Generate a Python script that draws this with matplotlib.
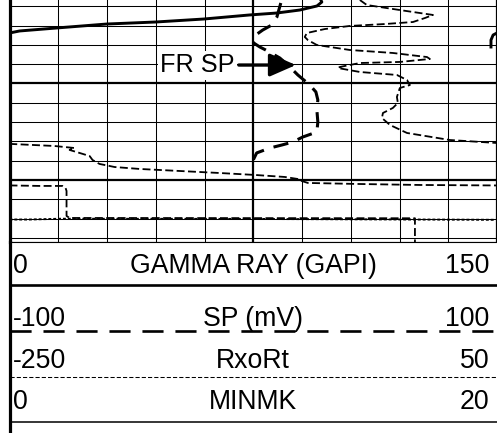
"""
Well-log track: gamma ray, SP, RxoRt and MINMK with a four-row scale header.
Curves that run past either edge of the track wrap around (backup scale).
"""
import numpy as np
import matplotlib

matplotlib.use("Agg")
import matplotlib.pyplot as plt

plt.rcParams["font.family"] = ["Liberation Sans", "DejaVu Sans"]

# ---- data (depth units, curve units) ----
GR_DEPTH = [91.35, 91.56, 91.97, 92.39, 92.70, 92.90, 93.32, 93.63, 93.84,
            94.25, 94.56, 94.77, 94.87, 94.98, 95.50, 96.22]
GR_API = [95.8, 96.1, 94.6, 89.3, 82.2, 73.9, 59.8, 45.0, 29.9,
          14.5, 3.1, 0.0, -0.6, -1.2, -1.85, -1.85]

SP_DEPTH = [91.66, 93.11, 93.94, 94.46, 94.98, 95.50, 95.81, 96.22, 96.53,
            97.36, 98.09, 99.12, 100.16, 100.88, 101.71, 102.75, 103.99,
            105.03, 105.55, 106.07, 106.38, 106.69, 107.20, 107.93, 108.45]
SP_MV = [11.3, 9.7, 7.6, 3.9, 1.0, -0.2, 0.2, 2.7, 5.1,
         10.9, 14.2, 18.3, 23.2, 25.7, 26.5, 26.1, 26.5,
         26.1, 20.3, 16.2, 11.7, 6.8, 1.4, 0.0, 0.0]

RXO_DEPTH = [91.35, 91.87, 92.39, 92.90, 93.22, 93.63, 93.84, 94.04, 94.36,
             94.77, 95.18, 95.50, 96.01, 96.53, 96.84, 97.26, 97.46, 97.77,
             97.88, 98.29, 98.40, 98.81, 99.12, 99.64, 100.16, 100.47, 101.40,
             102.02, 102.54, 103.06, 103.58, 104.30, 105.13, 105.86, 106.17,
             106.27, 106.48, 106.69, 106.89, 107.20, 107.52, 107.93, 108.34,
             108.66, 108.86, 109.07, 109.28, 109.48, 109.69, 109.90, 110.11,
             110.31, 110.42, 110.52, 110.57, 110.57, 110.62, 110.62, 110.83,
             111.14, 113.73, 113.94, 113.97, 114.15, 116.43]
RXO_RT = [-34.4, -30.1, -9.8, 10.6, 5.6, -1.7, -19.0, -40.6, -56.0,
          -67.0, -68.3, -66.4, -60.9, -40.6, -14.1, 6.9, 8.7, -9.8,
          -34.4, -46.7, -47.9, -34.4, -11.6, -5.4, -3.6, -9.8, -11.6,
          -11.0, -14.1, -20.2, -20.8, -15.9, -5.4, 21.0, 50.0,
          51.2, 77.7, 90.0, 87.0, 93.1, 99.3, 101.1, 105.4,
          114.7, 130.1, 154.7, 179.4, 200.9, 219.4, 227.4, 229.9,
          233.6, 265.6, 302.6, 350.0, 351.2, 368.5, 382.6, 384.5,
          385.1, 385.1, 387.0, 599.5, 599.5, 599.5]

MINMK_DEPTH = [114.10, 114.10, 114.02, 114.04, 114.10, 114.13]
MINMK = [0.0, 0.8, 2.1, 9.9, 16.6, 19.9]

GR_SCALE = (0, 150)
SP_SCALE = (-100, 100)
RXO_SCALE = (-250, 50)
MINMK_SCALE = (0, 20)
DEPTH_RANGE = (91.35, 116.43)

HEADER_LABELS = ["GAMMA RAY (GAPI)", "SP (mV)", "RxoRt", "MINMK"]
HEADER_LEFT = ["0", "-100", "-250", "0"]
HEADER_RIGHT = ["150", "100", "50", "20"]


def wrap_track(depth, vals, lo, hi):
    """Fold values that leave [lo, hi] back into the track, breaking the
    line where it crosses an edge."""
    span = hi - lo
    d_out, v_out = [], []
    prev_k = None
    for i, (d, v) in enumerate(zip(depth, vals)):
        k = np.floor((v - lo) / span)
        if prev_k is not None and k != prev_k:
            d0, v0 = depth[i - 1], vals[i - 1]
            edge = lo + max(k, prev_k) * span
            t = (edge - v0) / (v - v0)
            dc = d0 + t * (d - d0)
            up = k > prev_k
            d_out += [dc, np.nan, dc]
            v_out += [hi if up else lo, np.nan, lo if up else hi]
        d_out.append(d)
        v_out.append(v - k * span)
        prev_k = k
    return np.array(v_out), np.array(d_out)


def bare(a):
    a.set_xticks([])
    for s in a.spines.values():
        s.set_visible(False)


W, H = 497, 433
TRACK_BOT = 242
fig = plt.figure(figsize=(W / 100, H / 100), dpi=100)

# ---- log track ----
ax = fig.add_axes([9.5 / W, 1 - TRACK_BOT / H, (W - 9.5) / W, TRACK_BOT / H])
ax.set_xlim(*GR_SCALE)
ax.set_ylim(DEPTH_RANGE[1], DEPTH_RANGE[0])
ax.set_xticks([0, 75, 150])
ax.set_xticks(np.arange(0, 151, 15), minor=True)
ax.set_yticks([100, 110])
ax.set_yticks(np.arange(92, 117, 2), minor=True)
ax.grid(which="minor", color="black", lw=0.75)
ax.grid(which="major", color="black", lw=1.6)
ax.tick_params(which="both", length=0, labelbottom=False, labelleft=False)
ax.spines["top"].set_visible(False)
ax.spines["left"].set_linewidth(2.3)
ax.spines["bottom"].set_linewidth(0.8)
ax.spines["right"].set_linewidth(0.8)

x, y = wrap_track(GR_DEPTH, GR_API, *GR_SCALE)
ax.plot(x, y, color="black", lw=2.1)

ax_rx = ax.twiny()
ax_rx.set_xlim(*RXO_SCALE)
bare(ax_rx)
x, y = wrap_track(RXO_DEPTH, RXO_RT, *RXO_SCALE)
ax_rx.plot(x, y, color="black", lw=1.3, dashes=(4.4, 1.9))

ax_mk = ax.twiny()
ax_mk.set_xlim(*MINMK_SCALE)
bare(ax_mk)
x, y = wrap_track(MINMK_DEPTH, MINMK, *MINMK_SCALE)
ax_mk.plot(x, y, color="black", lw=1.4, dashes=(1.5, 1.0))

ax_sp = ax.twiny()
ax_sp.set_xlim(*SP_SCALE)
bare(ax_sp)
x, y = wrap_track(SP_DEPTH, SP_MV, *SP_SCALE)
ax_sp.plot(x, y, color="black", lw=2.2, dashes=(5, 3.3))

ax_sp.annotate(
    "FR SP", xy=(17.5, 98.09), xytext=(-61, 0), textcoords="offset pixels",
    ha="right", va="center", fontsize=18.2,
    bbox=dict(boxstyle="square,pad=0.1", fc="white", ec="none"),
    arrowprops=dict(arrowstyle="-|>,head_length=1.6,head_width=0.7",
                    color="black", lw=2.4, mutation_scale=10,
                    shrinkA=1, shrinkB=0),
)

# ---- header (pixel coordinates) ----
hx = fig.add_axes([9.5 / W, 0, (W - 9.5) / W, (H - TRACK_BOT) / H])
hx.set_xlim(9.5, W)
hx.set_ylim(H, TRACK_BOT)
hx.set_xticks([])
hx.set_yticks([])
hx.spines["right"].set_visible(False)
hx.spines["bottom"].set_visible(False)
hx.spines["top"].set_linewidth(0.8)
hx.spines["left"].set_linewidth(2.3)

hx.axhline(285, color="black", lw=1.9)
hx.axhline(331, color="black", lw=1.9, dashes=(8, 4.5))
hx.axhline(377, color="black", lw=0.75, dashes=(4, 2))
hx.axhline(422.5, color="black", lw=1.1)

baselines = [273, 326, 368, 409]
for lab, lo, hi, yb in zip(HEADER_LABELS, HEADER_LEFT, HEADER_RIGHT, baselines):
    hx.text(13, yb, lo, ha="left", va="baseline", fontsize=19.2)
    hx.text(253, yb, lab, ha="center", va="baseline", fontsize=19.2)
    hx.text(489.5, yb, hi, ha="right", va="baseline", fontsize=19.2)

fig.savefig("out.png", dpi=100)
